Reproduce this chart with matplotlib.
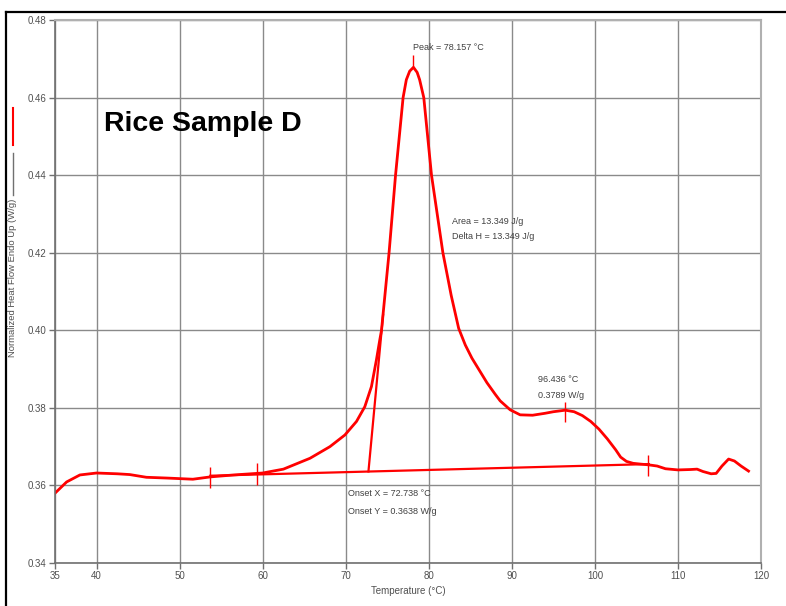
import matplotlib
matplotlib.use("Agg")
from matplotlib import pyplot as plt
from matplotlib.lines import Line2D

plt.rcParams['font.family'] = ['Liberation Sans', 'DejaVu Sans']

# DSC trace
temp = [35, 36.4, 38, 40, 42.5, 44, 46, 48.5, 51.6, 53.7, 56.5, 60, 62.5, 63.3,
        65.7, 68.1, 69.9, 71.3, 72.3, 73.1, 73.7, 74.1, 74.31, 75.22, 76.0, 76.91,
        77.3, 77.7, 78.157, 78.6, 78.9, 79.4, 80.33, 81.7, 82.7, 83.6, 84.4, 85.2,
        86.0, 87.0, 88.0, 88.6, 89.8, 91.0, 92.5, 94.0, 95.0, 96.436, 97.5, 98.5,
        99.5, 100.5, 101.5, 102.5, 103.1, 103.8, 104.6, 105.5, 106.5, 107.5, 108.5,
        110, 111.5, 112.3, 113, 114, 114.6, 115.3, 116.1, 116.8, 117.6, 118.5]
heat_flow = [0.3580, 0.3609, 0.3627, 0.3632, 0.3630, 0.3628, 0.3621, 0.3619, 0.3616,
             0.3622, 0.3627, 0.3632, 0.3642, 0.3649, 0.3670, 0.3700, 0.3730, 0.3765,
             0.3803, 0.3855, 0.3924, 0.3975, 0.4000, 0.4200, 0.4400, 0.4600, 0.4646,
             0.4668, 0.4678, 0.4665, 0.4646, 0.4600, 0.4400, 0.4200, 0.4090, 0.4005,
             0.3962, 0.3928, 0.3900, 0.3865, 0.3835, 0.3818, 0.3795, 0.3782, 0.3781,
             0.3786, 0.3790, 0.3794, 0.3790, 0.3780, 0.3765, 0.3745, 0.3720, 0.3692,
             0.3673, 0.3662, 0.3657, 0.3655, 0.3653, 0.3650, 0.3643, 0.3640, 0.3641,
             0.3642, 0.3636, 0.3630, 0.3631, 0.3650, 0.3668, 0.3663, 0.3650, 0.3637]

# integration baseline and onset tangent
baseline_temp = [53.7, 106.5]
baseline_flow = [0.3625, 0.3655]
tangent_temp = [72.738, 74.5]
tangent_flow = [0.3636, 0.4040]

# little vertical markers on the trace
mark_temp = [53.7, 59.3, 78.157, 96.436, 106.4]
mark_low = [0.3594, 0.3601, 0.4678, 0.3764, 0.3624]
mark_high = [0.3648, 0.3658, 0.4711, 0.3815, 0.3679]

xticks = [35, 40, 50, 60, 70, 80, 90, 100, 110, 120]
yticks = [0.34, 0.36, 0.38, 0.40, 0.42, 0.44, 0.46, 0.48]

red = "#ff0000"
grey = "#707070"

fig = plt.figure(figsize=(7.86, 6.06), dpi=100)
ax = fig.add_axes([55 / 786, 43 / 606, 706 / 786, 543 / 606])

ax.plot(temp, heat_flow, color=red, lw=2.0, solid_joinstyle="round")
ax.plot(baseline_temp, baseline_flow, color=red, lw=1.6)
ax.plot(tangent_temp, tangent_flow, color=red, lw=1.6)
ax.vlines(mark_temp, mark_low, mark_high, color=red, lw=1.0)

ax.set_xlim(35, 120)
ax.set_ylim(0.34, 0.48)
ax.set_xticks(xticks)
ax.set_yticks(yticks)
ax.set_yticklabels(["%.2f" % v for v in yticks])
ax.grid(True, color="#8a8a8a", lw=1.0)
ax.tick_params(length=4, width=1, color=grey, labelsize=7, labelcolor="#505050", pad=2)
for side in ["left", "bottom"]:
    ax.spines[side].set_color(grey)
    ax.spines[side].set_linewidth(1.2)
for side in ["top", "right"]:
    ax.spines[side].set_color("#b0b0b0")
    ax.spines[side].set_linewidth(1.5)

ax.set_xlabel("Temperature (°C)", fontsize=7, color="#505050", labelpad=3)

txt = dict(fontsize=6.5, color="#404040")
ax.text(78.1, 0.4729, "Peak = 78.157 °C", ha="left", va="center", **txt)
ax.text(82.8, 0.4280, "Area = 13.349 J/g", ha="left", va="center", **txt)
ax.text(82.8, 0.4241, "Delta H = 13.349 J/g", ha="left", va="center", **txt)
ax.text(93.2, 0.3872, "96.436 °C", ha="left", va="center", **txt)
ax.text(93.2, 0.3833, "0.3789 W/g", ha="left", va="center", **txt)
ax.text(70.3, 0.3578, "Onset X = 72.738 °C", ha="left", va="center", **txt)
ax.text(70.3, 0.3534, "Onset Y = 0.3638 W/g", ha="left", va="center", **txt)

ax.text(52.8, 0.4533, "Rice Sample D", ha="center", va="center",
        fontsize=20.5, fontweight="bold", color="black")

# y label with its little legend strokes
fig.text(13 / 786, 1 - 278 / 606, "Normalized Heat Flow Endo Up (W/g)", rotation=90,
         ha="center", va="center", fontsize=6.8, color="#505050")
fig.add_artist(Line2D([13 / 786, 13 / 786], [1 - 108 / 606, 1 - 145 / 606], color=red, lw=1.5))
fig.add_artist(Line2D([13 / 786, 13 / 786], [1 - 153 / 606, 1 - 195 / 606], color=grey, lw=1.0))

# black frame at top and left
fig.add_artist(Line2D([6 / 786, 1], [1 - 12 / 606, 1 - 12 / 606], color="black", lw=1.6))
fig.add_artist(Line2D([6 / 786, 6 / 786], [0, 1 - 12 / 606], color="black", lw=1.6))

fig.savefig("out.png", dpi=100)
